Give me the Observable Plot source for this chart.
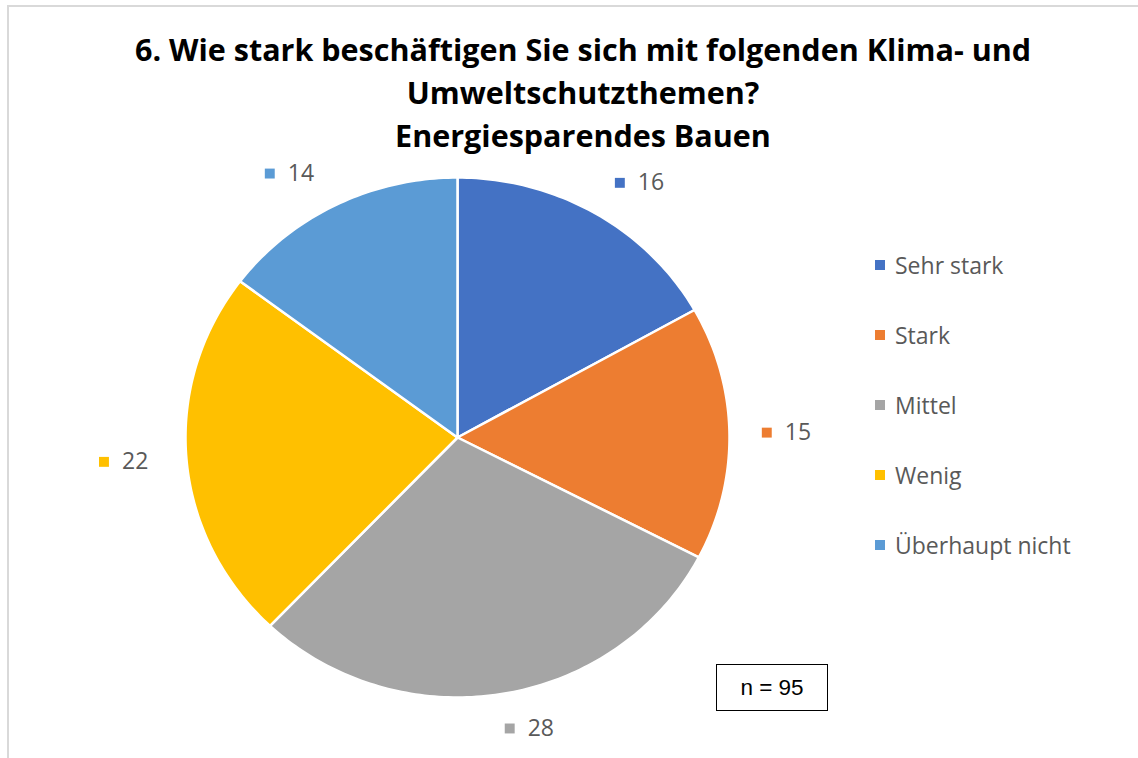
<!DOCTYPE html>
<html>
<head>
<meta charset="utf-8">
<script src="https://cdn.jsdelivr.net/npm/d3@7"></script>
<script src="https://cdn.jsdelivr.net/npm/@observablehq/plot@0.6"></script>
<style>
  html, body { margin: 0; padding: 0; background: #fff; overflow: hidden; }
  #wrap { position: relative; width: 1138px; height: 758px; }
  #chart { position: absolute; left: 0; top: 0; }
  #frame { position: absolute; left: 7px; top: 5px; width: 1140px; height: 760px;
           border-top: 2px solid #d9d9d9; border-left: 2px solid #d9d9d9; pointer-events: none; }
  #title { position: absolute; left: 0; top: 28px; width: 1166px; text-align: center;
           font-family: "Open Sans", Lato, sans-serif; font-weight: 700; font-size: 30.5px;
           line-height: 43px; color: #000; }
  .leg { position: absolute; left: 875px; height: 24px; display: flex; align-items: center;
         font-family: "Open Sans", Lato, sans-serif; font-size: 23px; color: #595959; white-space: nowrap; }
  .leg span.sw { display: inline-block; width: 10px; height: 10px; margin-right: 10px; }
  #nbox { position: absolute; left: 716px; top: 664px; width: 112px; height: 47px;
          border: 1.5px solid #000; box-sizing: border-box; display: flex; align-items: center;
          justify-content: center; font-family: "Liberation Sans", Arial, sans-serif; font-size: 22.5px; color: #000; }
</style>
</head>
<body>
<div id="wrap">
  <div id="chart"></div>
  <div id="frame"></div>
  <div id="title"></div>
  <div id="legend"></div>
  <div id="nbox"></div>
</div>
<script>
// ---- data ----
const titleLines = ["6. Wie stark beschäftigen Sie sich mit folgenden Klima- und", "Umweltschutzthemen?", "Energiesparendes Bauen"];
const categories = ["Sehr stark", "Stark", "Mittel", "Wenig", "Überhaupt nicht"];
const values = [16, 15, 28, 22, 14];
const colors = ["#4472C4", "#ED7D31", "#A5A5A5", "#FFC000", "#5B9BD5"];
const sampleSize = 95;

// ---- layout ----
const W = 1138, H = 758;
const CX = 457, CY = 437, RX = 272, RY = 260;

document.getElementById("title").innerHTML = titleLines.join("<br>");
document.getElementById("nbox").textContent = "n = " + sampleSize;

const legend = document.getElementById("legend");
categories.forEach((c, i) => {
  const d = document.createElement("div");
  d.className = "leg";
  d.style.top = (265 + i * 70 - 12) + "px";
  d.innerHTML = `<span class="sw" style="background:${colors[i]}"></span>${c}`;
  legend.appendChild(d);
});

const arcs = d3.pie().sort(null)(values);
const polys = arcs.flatMap((a, i) => {
  const k = categories[i];
  const n = Math.max(2, Math.ceil((a.endAngle - a.startAngle) / (Math.PI / 180)));
  const pts = [{k, x: 0, y: 0}];
  for (let j = 0; j <= n; j++) {
    const t = a.startAngle + (a.endAngle - a.startAngle) * j / n;
    pts.push({k, x: Math.sin(t), y: Math.cos(t)});
  }
  pts.push({k, x: 0, y: 0});
  return pts;
});

const g = 24, bw = 60, bh = 22;
const labels = arcs.map((a, i) => {
  const m = (a.startAngle + a.endAngle) / 2;
  const s = Math.sin(m), c = Math.cos(m);
  const bx = RX * s + s * (g + bw / 2) + Math.sign(s) * 20 * Math.abs(c) + 5 * s;
  const by = RY * c + c * (g + bh / 2);
  return {k: categories[i], v: values[i], mx: (bx - 22) / RX, tx: (bx - 4) / RX, y: by / RY};
});

const plot = Plot.plot({
  width: W, height: H,
  marginTop: 0, marginRight: 0, marginBottom: 0, marginLeft: 0,
  x: {domain: [-CX / RX, (W - CX) / RX], axis: null},
  y: {domain: [-(H - CY) / RY, CY / RY], axis: null},
  color: {domain: categories, range: colors},
  style: {background: "transparent"},
  marks: [
    Plot.line(polys, {x: "x", y: "y", z: "k", fill: "k", stroke: "white", strokeWidth: 2.5, strokeLinejoin: "round"}),
    Plot.dot(labels, {x: "mx", y: "y", symbol: "square", fill: "k", r: 5.6, stroke: null}),
    Plot.text(labels, {x: "tx", y: "y", text: d => String(d.v), textAnchor: "start", fontSize: 23,
      fill: "#595959", fontFamily: "'Open Sans', Lato, sans-serif"})
  ]
});
document.getElementById("chart").appendChild(plot);
</script>
</body>
</html>
